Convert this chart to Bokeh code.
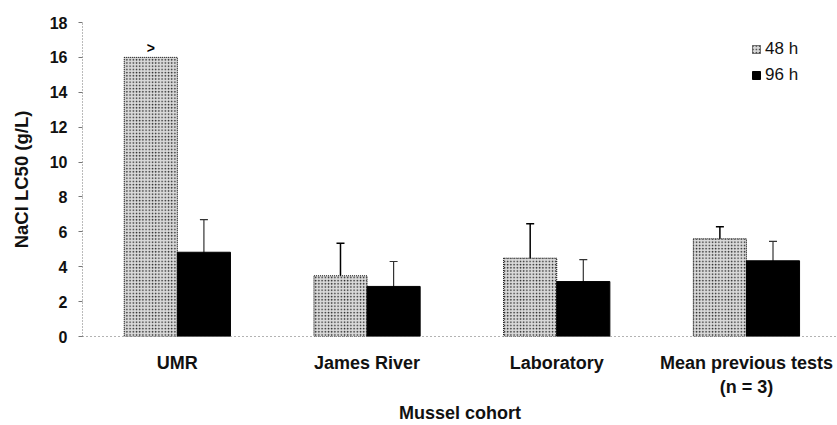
import numpy as np
from bokeh.plotting import figure
from bokeh.models import (ColumnDataSource, Range1d, FixedTicker, Whisker, TeeHead,
                          Legend, LegendItem)
from bokeh.core.properties import value
from bokeh.embed import file_html
from bokeh.resources import INLINE

# ---- data ----
cohorts = ["UMR", "James River", "Laboratory", "Mean previous tests\n(n = 3)"]
lc50_48h = [16.0, 3.48, 4.49, 5.60]
lc50_96h = [4.83, 2.87, 3.15, 4.34]
err48_lower = [None, 2.16, 3.06, 4.93]
err48_upper = [None, 5.35, 6.46, 6.29]
err96_lower = [3.4, 1.9, 2.2, 3.5]
err96_upper = [6.70, 4.30, 4.41, 5.45]
y_ticks = [0, 2, 4, 6, 8, 10, 12, 14, 16, 18]
series_labels = ["48 h", "96 h"]

FONT = "Liberation Sans"
BW = 0.28
xc = np.arange(len(cohorts)) + 0.5
x48 = xc - BW / 2
x96 = xc + BW / 2

p = figure(width=837, height=425, output_backend="svg", toolbar_location=None,
           x_range=Range1d(0, 3.98), y_range=Range1d(0, 18),
           min_border_left=82, min_border_right=0, min_border_top=22, min_border_bottom=89)
p.outline_line_color = None
p.xgrid.grid_line_color = None
p.ygrid.grid_line_color = None
p.background_fill_color = "white"

src48 = ColumnDataSource(dict(x=x48, top=lc50_48h))
src96 = ColumnDataSource(dict(x=x96, top=lc50_96h))
r48 = p.vbar(x="x", top="top", width=BW, source=src48, fill_color="#dadada",
             hatch_pattern="dot", hatch_color="#222222", hatch_scale=3.2, hatch_weight=0.9,
             line_color="black", line_width=1, line_dash="1 1")
r96 = p.vbar(x="x", top="top", width=BW, source=src96, fill_color="black",
             line_color="black", line_width=1)

# error bars
idx48 = [i for i, v in enumerate(err48_lower) if v is not None]
w48 = ColumnDataSource(dict(base=[x48[i] for i in idx48],
                            lower=[err48_lower[i] for i in idx48],
                            upper=[err48_upper[i] for i in idx48]))
p.add_layout(Whisker(source=w48, base="base", lower="lower", upper="upper",
                     line_color="black", line_width=1.5,
                     upper_head=TeeHead(size=8, line_color="black", line_width=1.5),
                     lower_head=TeeHead(size=8, line_color="black", line_width=1.5)))
w96 = ColumnDataSource(dict(base=list(x96), lower=err96_lower, upper=err96_upper))
p.add_layout(Whisker(source=w96, base="base", lower="lower", upper="upper",
                     line_color="#333333", line_width=1.2,
                     upper_head=TeeHead(size=8, line_color="#333333", line_width=1.2),
                     lower_head=TeeHead(size=8, line_color="black", line_width=1.2)))

# ">" marker above the UMR 48 h bar
p.text(x=[x48[0]], y=[lc50_48h[0]], text=[">"], text_align="center",
       text_baseline="alphabetic", y_offset=-9, text_font=value(FONT),
       text_font_size="14px", text_font_style="bold", text_color="black")

# axes
p.xaxis.ticker = FixedTicker(ticks=list(xc))
p.xaxis.major_label_overrides = {float(x): c for x, c in zip(xc, cohorts)}
p.xaxis.major_tick_line_color = None
p.xaxis.minor_tick_line_color = None
p.xaxis.axis_line_color = "#666666"
p.xaxis.axis_line_dash = "1 3"
p.xaxis.major_label_standoff = 10
p.xaxis.major_label_text_font = FONT
p.xaxis.major_label_text_font_size = "18px"
p.xaxis.major_label_text_font_style = "bold"
p.xaxis.major_label_text_color = "#111111"
p.xaxis.major_label_text_line_height = 1.2
p.xaxis.axis_label = "Mussel cohort"
p.xaxis.axis_label_text_font = FONT
p.xaxis.axis_label_text_font_size = "18px"
p.xaxis.axis_label_text_font_style = "bold"
p.xaxis.axis_label_text_color = "#111111"
p.xaxis.axis_label_standoff = 3

p.yaxis.ticker = FixedTicker(ticks=y_ticks)
p.yaxis.minor_tick_line_color = None
p.yaxis.axis_line_color = "#777777"
p.yaxis.axis_line_dash = "1 2"
p.yaxis.major_tick_line_color = "#777777"
p.yaxis.major_tick_in = 0
p.yaxis.major_tick_out = 4
p.yaxis.major_label_standoff = 11
p.yaxis.major_label_text_font = FONT
p.yaxis.major_label_text_font_size = "16px"
p.yaxis.major_label_text_font_style = "bold"
p.yaxis.major_label_text_color = "#111111"
p.yaxis.axis_label = "NaCl LC50 (g/L)"
p.yaxis.axis_label_text_font = FONT
p.yaxis.axis_label_text_font_size = "18.5px"
p.yaxis.axis_label_text_font_style = "bold"
p.yaxis.axis_label_text_color = "#111111"
p.yaxis.axis_label_standoff = 15

legend = Legend(items=[LegendItem(label=series_labels[0], renderers=[r48]),
                       LegendItem(label=series_labels[1], renderers=[r96])],
                location=(669, 251), orientation="vertical",
                glyph_width=10, glyph_height=10, label_standoff=4,
                label_text_font=FONT, label_text_font_size="17px", label_height=20,
                label_text_color="#111111",
                spacing=6, padding=0, margin=0,
                border_line_color=None, background_fill_alpha=0)
p.add_layout(legend)

open("out.html", "w").write(file_html(p, INLINE))
